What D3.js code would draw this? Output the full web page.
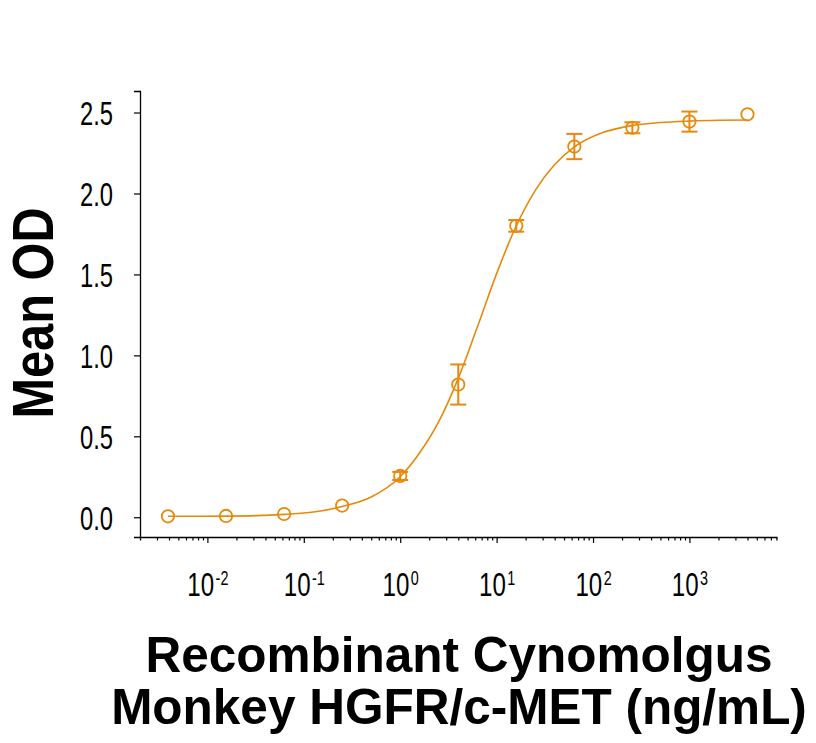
<!DOCTYPE html>
<html><head><meta charset="utf-8">
<script src="https://cdn.jsdelivr.net/npm/d3@7/dist/d3.min.js"></script>
<style>body{margin:0;background:#fff}svg{display:block}</style>
</head><body>
<svg id="c" width="816" height="743"></svg>
<script>
// Data (concentration ng/mL, mean OD, error)
const conc = [0.0039, 0.0156, 0.0625, 0.25, 1, 4, 16, 64, 256, 1000, 4000];
const meanOD = [0.006, 0.008, 0.02, 0.072, 0.255, 0.82, 1.80, 2.29, 2.406, 2.444, 2.489];
const errOD = [0.0, 0.0, 0.0, 0.0, 0.025, 0.124, 0.036, 0.078, 0.034, 0.062, 0.0];
// fitted curve
const curveX = [0.0039, 0.0079, 0.0158, 0.0316, 0.063, 0.126, 0.25, 0.5, 1, 1.58, 2.51, 3.98, 6.31, 10, 15.8, 25.1, 39.8, 63.1, 126, 251, 501, 1000, 2000, 4000];
const curveY = [0.006, 0.006, 0.007, 0.010, 0.018, 0.032, 0.066, 0.125, 0.250, 0.395, 0.590, 0.855, 1.175, 1.505, 1.793, 2.018, 2.178, 2.285, 2.376, 2.419, 2.438, 2.447, 2.452, 2.454];
const yTicks = [0.0, 0.5, 1.0, 1.5, 2.0, 2.5];
const xMajor = [0.01, 0.1, 1, 10, 100, 1000];
const xExp = ["-2", "-1", "0", "1", "2", "3"];

const color = "#E8890C";
const narrow = 0.72;
const svg = d3.select("#c");
const x = d3.scaleLog().domain([0.002, 8000]).range([140, 776.5]);
const y = d3.scaleLinear().domain([-0.122, 2.633]).range([537, 91]);

// minor + major ticks
const allTicks = [];
for (let e = -3; e <= 3; e++) for (let m = 1; m <= 9; m++) {
  const v = m * Math.pow(10, e);
  if (v >= 0.003 && v <= 7000) allTicks.push(v);
}
const isMajor = v => xMajor.some(t => Math.abs(t - v) / t < 1e-9);

const xAxis = svg.append("g").attr("transform", "translate(0,537)")
  .call(d3.axisBottom(x).tickValues(allTicks).tickSizeOuter(0).tickSize(3.5).tickFormat(""));
xAxis.selectAll(".tick line").attr("y2", d => isMajor(d) ? 6 : 3.5).attr("stroke-width", 1.2);
xAxis.select(".domain").attr("stroke-width", 1.3);
xAxis.selectAll(".tick").filter(d => isMajor(d)).each(function(d) {
  const i = xMajor.findIndex(t => Math.abs(t - d) / t < 1e-9);
  const t = d3.select(this).append("text")
    .attr("transform", `translate(0,59) scale(${narrow},1)`)
    .attr("fill", "#000").attr("text-anchor", "middle")
    .style("font-family", "'Liberation Sans', Arial, sans-serif");
  t.append("tspan").style("font-size", "33.5px").text("10");
  t.append("tspan").style("font-size", "20px").attr("dy", -11.5).attr("dx", 2).text(xExp[i]);
});

const yAxis = svg.append("g").attr("transform", "translate(140,0)")
  .call(d3.axisLeft(y).tickValues(yTicks).tickSizeOuter(0).tickSize(6).tickPadding(21)
    .tickFormat(d3.format(".1f")));
yAxis.select(".domain").attr("stroke-width", 1.3);
yAxis.selectAll(".tick line").attr("stroke-width", 1.2);
yAxis.selectAll(".tick text").attr("fill", "#000")
  .attr("x", -27 / narrow)
  .attr("transform", `scale(${narrow},1)`)
  .style("font-family", "'Liberation Sans', Arial, sans-serif")
  .style("font-size", "33px").attr("dy", "0.36em");

// curve
const line = d3.line().x((d, i) => x(curveX[i])).y((d, i) => y(curveY[i])).curve(d3.curveMonotoneX);
svg.append("path").datum(curveX).attr("d", line).attr("fill", "none")
  .attr("stroke", color).attr("stroke-width", 1.6);

// error bars
const eb = svg.append("g").attr("stroke", color).attr("stroke-width", 2).attr("fill", "none");
conc.forEach((c, i) => {
  if (errOD[i] <= 0) return;
  const cx = x(c), y1 = y(meanOD[i] + errOD[i]), y2 = y(meanOD[i] - errOD[i]);
  eb.append("line").attr("x1", cx).attr("x2", cx).attr("y1", y1).attr("y2", y2);
  eb.append("line").attr("x1", cx - 8).attr("x2", cx + 8).attr("y1", y1).attr("y2", y1);
  eb.append("line").attr("x1", cx - 8).attr("x2", cx + 8).attr("y1", y2).attr("y2", y2);
});
// markers
svg.append("g").selectAll("circle").data(conc).join("circle")
  .attr("cx", d => x(d)).attr("cy", (d, i) => y(meanOD[i])).attr("r", 6.2)
  .attr("fill", "none").attr("stroke", color).attr("stroke-width", 1.8);

// titles
svg.append("text").attr("transform", "translate(53,313) rotate(-90) scale(0.84,1)")
  .attr("text-anchor", "middle").style("font-family", "'Liberation Sans', Arial, sans-serif")
  .style("font-weight", "bold").style("font-size", "58px").text("Mean OD");
const xt = svg.append("text").attr("text-anchor", "middle")
  .style("font-family", "'Liberation Sans', Arial, sans-serif").style("font-weight", "bold").style("font-size", "49.5px");
xt.append("tspan").attr("x", 459).attr("y", 672).text("Recombinant Cynomolgus");
xt.append("tspan").attr("x", 459).attr("y", 724).text("Monkey HGFR/c-MET (ng/mL)");
</script>
</body></html>
